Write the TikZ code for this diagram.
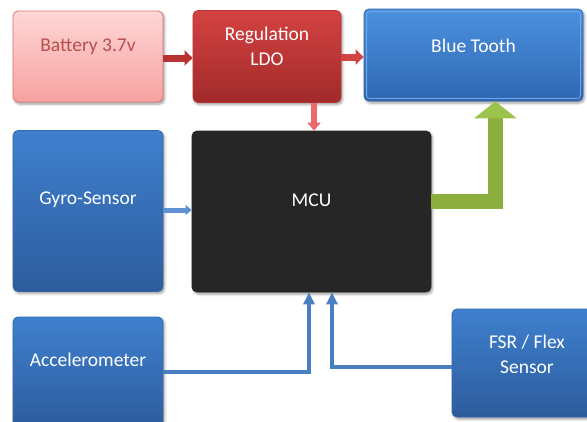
\documentclass[tikz,border=0pt]{standalone}
\usepackage{fontspec}
\setmainfont{Carlito}
\usetikzlibrary{arrows.meta,shadows.blur,calc}
\definecolor{batTop}{HTML}{FFD6D6}
\definecolor{batBot}{HTML}{F7A1A1}
\definecolor{batEdge}{HTML}{E27474}
\definecolor{batText}{HTML}{B5504D}
\definecolor{ldoTop}{HTML}{D44242}
\definecolor{ldoBot}{HTML}{A12A2A}
\definecolor{ldoEdge}{HTML}{B83434}
\definecolor{bluTop}{HTML}{3F80CE}
\definecolor{bluBot}{HTML}{2D5C9D}
\definecolor{bluEdge}{HTML}{3366A8}
\definecolor{btTop}{HTML}{4B91E0}
\definecolor{btBot}{HTML}{2F67B2}
\definecolor{btInner}{HTML}{6FA6E6}
\definecolor{mcuFill}{HTML}{262626}
\definecolor{redArrow}{HTML}{B83232}
\definecolor{redArrowB}{HTML}{D04444}
\definecolor{pinkArrow}{HTML}{E86A6A}
\definecolor{gyroArrow}{HTML}{5E92D4}
\definecolor{lineBlue}{HTML}{4A7EC2}
\definecolor{greenArrow}{HTML}{8BAE3F}
\definecolor{greenHead}{HTML}{9CC44C}
\begin{document}
\begin{tikzpicture}[x=1pt,y=-1pt,
  bx/.style={rectangle, rounded corners=5pt, line width=0.8pt, inner sep=0pt,
    blur shadow={shadow xshift=1.5pt, shadow yshift=-2pt, shadow blur radius=2.5pt, shadow opacity=40}},
  bluebox/.style={bx, draw=bluEdge, top color=bluTop, bottom color=bluBot},
  lbl/.style={font=\fontsize{19.5}{25}\selectfont, text=white, align=center, inner sep=0pt},
  thinarrow/.style={draw=lineBlue, line width=3.2pt, line join=miter, -{Triangle[width=11pt,length=12pt]}}
]
\useasboundingbox (0,0) rectangle (587,421);

% boxes
\node[bx, draw=batEdge, top color=batTop, bottom color=batBot, minimum width=150pt, minimum height=91pt] (bat) at (88,56.5) {};
\node[bx, draw=ldoEdge, top color=ldoTop, bottom color=ldoBot, minimum width=148pt, minimum height=92pt] (ldo) at (267,56.5) {};
\node[bx, draw=bluEdge, top color=btTop, bottom color=btBot, minimum width=219pt, minimum height=92pt] (bt) at (473.5,55) {};
\draw[btInner, line width=0.8pt, rounded corners=3pt] ($(bt.north west)+(3,3)$) rectangle ($(bt.south east)+(-3,-3)$);
\node[bluebox, minimum width=150pt, minimum height=161pt] (gyro) at (88,211) {};
\node[bx, draw=mcuFill, fill=mcuFill, minimum width=239pt, minimum height=161pt] (mcu) at (311.5,211.5) {};
\node[bluebox, minimum width=150pt, minimum height=110pt] (acc) at (88,372) {};
\node[bluebox, minimum width=150pt, minimum height=108pt] (fsr) at (527,363) {};

% labels
\node[lbl, text=batText] (battxt) at ($(bat.center)+(0,-10)$) {Battery 3.7v};
\node[lbl] (ldotxt) at ($(ldo.center)+(0,-10)$) {Regulation\\LDO};
\node[lbl] (bttxt) at ($(bt.center)+(0,-9)$) {Blue Tooth};
\node[lbl] (gyrotxt) at ($(gyro.center)+(0,-11)$) {Gyro-Sensor};
\node[lbl] (mcutxt) at ($(mcu.center)+(0,-11)$) {MCU};
\node[lbl] (acctxt) at ($(acc.center)+(0,-12)$) {Accelerometer};
\node[lbl] (fsrtxt) at ($(fsr.center)+(0,-9)$) {FSR / Flex\\Sensor};

% red arrows
\coordinate (batout) at ($(bat.east)+(0,1.5)$);
\draw[redArrow, line width=7pt, -{Triangle[width=15pt,length=8pt]}] (batout) -- (batout -| ldo.west);
\coordinate (ldoout) at ($(ldo.east)+(0,0.5)$);
\draw[redArrowB, line width=7pt, -{Triangle[width=15pt,length=8pt]}] (ldoout) -- (ldoout -| bt.west);
\coordinate (ldodown) at ($(ldo.south)+(47,0)$);
\draw[pinkArrow, line width=6pt, -{Triangle[width=13pt,length=8pt]}] (ldodown) -- (ldodown |- mcu.north);

% gyro arrow
\coordinate (gyroout) at ($(gyro.east)+(0,-1)$);
\draw[gyroArrow, line width=5pt, -{Triangle[width=10pt,length=6pt]}] (gyroout) -- (gyroout -| mcu.west);

% green arrow
\coordinate (gstart) at ($(mcu.east)+(0,-10)$);
\coordinate (gcorner) at ($(gstart)+(64,0)$);
\draw[greenArrow, line width=14.5pt, line join=miter, -{Triangle[width=42pt,length=17pt,color=greenHead]}] (gstart) -- (gcorner) -- (gcorner |- bt.south);

% sensor lines
\coordinate (accv) at ($(mcu.south)+(-2.5,0)$);
\draw[thinarrow] (acc.east) -- (acc.east -| accv) -- (accv);
\coordinate (fsrv) at ($(mcu.south)+(20.5,0)$);
\coordinate (fsrh) at ($(fsr.west)+(0,4)$);
\draw[thinarrow] (fsrh) -- (fsrh -| fsrv) -- (fsrv);
\end{tikzpicture}
\end{document}
